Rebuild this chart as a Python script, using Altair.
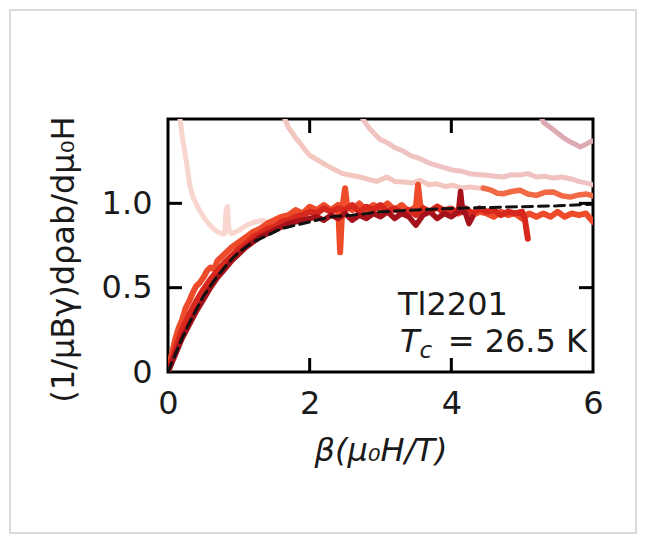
import altair as alt
import pandas as pd

# ---------------- data ----------------
fit_x = [0, 0.1, 0.2, 0.3, 0.4, 0.5, 0.6, 0.7, 0.8, 0.9, 1.0, 1.2, 1.4, 1.6, 1.8,
         2.0, 2.3, 2.6, 3.0, 3.5, 4.0, 4.5, 5.0, 5.5, 6.0]
fit_y = [0, 0.10, 0.20, 0.29, 0.37, 0.45, 0.51, 0.57, 0.62, 0.67, 0.71, 0.77, 0.81, 0.85, 0.87,
         0.89, 0.92, 0.93, 0.95, 0.96, 0.97, 0.975, 0.98, 0.985, 0.995]

pale_a_x = [0.15, 0.17, 0.20, 0.26, 0.31, 0.36, 0.43, 0.50, 0.57, 0.64, 0.70, 0.76, 0.80,
            0.82, 0.84, 0.86, 0.90, 1.00, 1.11, 1.23, 1.35]
pale_a_y = [1.60, 1.50, 1.40, 1.245, 1.10, 1.03, 0.97, 0.92, 0.88, 0.85, 0.83, 0.82, 0.82,
            0.96, 0.98, 0.84, 0.82, 0.84, 0.87, 0.89, 0.90]

pale_b_x = [1.60, 1.63, 1.70, 1.80, 1.86, 1.93, 2.00, 2.10, 2.24, 2.35, 2.47, 2.60, 2.71, 2.85,
            2.95, 3.09, 3.20, 3.32, 3.45, 3.56, 3.68, 3.79, 3.91, 4.03, 4.15, 4.26, 4.40, 4.50]
pale_b_y = [1.56, 1.52, 1.45, 1.39, 1.36, 1.32, 1.285, 1.26, 1.225, 1.20, 1.176, 1.165, 1.156, 1.14,
            1.13, 1.156, 1.13, 1.127, 1.12, 1.136, 1.11, 1.116, 1.10, 1.107, 1.09, 1.097, 1.09, 1.09]

pale_c_x = [2.70, 2.75, 2.80, 2.85, 2.99, 3.09, 3.20, 3.32, 3.44, 3.56, 3.68, 3.79, 3.91, 4.03,
            4.15, 4.26, 4.40, 4.50, 4.62, 4.73, 4.85, 4.97, 5.08, 5.20, 5.32, 5.44, 5.56, 5.68,
            5.80, 5.91, 6.0]
pale_c_y = [1.56, 1.50, 1.47, 1.44, 1.38, 1.36, 1.33, 1.31, 1.28, 1.265, 1.24, 1.225, 1.21, 1.196,
            1.19, 1.176, 1.17, 1.166, 1.16, 1.156, 1.17, 1.168, 1.176, 1.156, 1.16, 1.15, 1.156, 1.146,
            1.13, 1.12, 1.11]

mauve_x = [5.25, 5.30, 5.40, 5.49, 5.58, 5.68, 5.75, 5.82, 5.90, 5.96, 6.0]
mauve_y = [1.53, 1.48, 1.45, 1.42, 1.39, 1.364, 1.35, 1.334, 1.35, 1.364, 1.37]

orange_x = [4.45, 4.55, 4.65, 4.73, 4.85, 4.97, 5.08, 5.20, 5.32, 5.44, 5.56, 5.68, 5.80, 5.91, 6.0]
orange_y = [1.09, 1.08, 1.06, 1.057, 1.07, 1.077, 1.055, 1.047, 1.065, 1.067, 1.045, 1.037, 1.05, 1.055, 1.045]

bright_x = [0, 0.05, 0.1, 0.15, 0.2, 0.25, 0.3, 0.35, 0.4, 0.45, 0.5, 0.55, 0.6, 0.65, 0.7,
            0.8, 0.9, 1.0, 1.1, 1.2, 1.3, 1.4, 1.5, 1.6, 1.7, 1.8, 1.9, 2.0, 2.1, 2.2, 2.3, 2.4,
            2.43, 2.46, 2.5, 2.53,
            2.6, 2.7, 2.8, 2.9, 3.0, 3.1, 3.2, 3.3, 3.4, 3.5,
            3.53, 3.56,
            3.6, 3.7, 3.8, 3.9, 4.0, 4.1, 4.2, 4.3, 4.4, 4.5, 4.6, 4.7, 4.8, 4.9,
            5.0, 5.1, 5.2, 5.3, 5.4, 5.5, 5.6, 5.7, 5.8, 5.9, 6.0]
bright_y = [0.0, 0.10, 0.19, 0.26, 0.31, 0.38, 0.42, 0.47, 0.51, 0.53, 0.56, 0.60, 0.62, 0.61, 0.66,
            0.70, 0.74, 0.77, 0.80, 0.83, 0.85, 0.88, 0.90, 0.92, 0.93, 0.96, 0.94, 0.98, 0.96, 0.99, 0.96, 0.99,
            0.71, 0.97, 1.09, 0.98,
            0.96, 1.00, 0.96, 0.99, 0.97, 1.00, 0.96, 0.99, 0.95, 0.98,
            1.11, 0.99,
            0.97, 0.95, 0.98, 0.96, 0.97, 0.94, 0.96, 0.93, 0.95, 0.94, 0.92, 0.95, 0.93, 0.94,
            0.91, 0.94, 0.92, 0.94, 0.92, 0.95, 0.92, 0.94, 0.93, 0.94, 0.89]

red_x = [0, 0.1, 0.2, 0.3, 0.4, 0.5, 0.6, 0.7, 0.8, 0.9,
         1.0, 1.1, 1.2, 1.3, 1.4, 1.5, 1.6, 1.7, 1.8, 1.9,
         2.0, 2.1, 2.2, 2.3, 2.4, 2.5, 2.6, 2.7, 2.8, 2.9,
         3.0, 3.1, 3.2, 3.3, 3.4, 3.5, 3.6, 3.7, 3.8, 3.9,
         4.0, 4.1, 4.2, 4.3, 4.4, 4.5, 4.6, 4.7, 4.8, 4.9,
         5.0, 5.04, 5.08]
red_y = [0, 0.13, 0.25, 0.34, 0.42, 0.49, 0.55, 0.60, 0.65, 0.69,
         0.73, 0.76, 0.80, 0.82, 0.85, 0.86, 0.89, 0.90, 0.92, 0.93,
         0.95, 0.94, 0.97, 0.95, 0.97, 0.96, 0.99, 0.95, 0.98, 0.96,
         0.99, 0.95, 0.97, 0.94, 0.96, 0.93, 0.97, 0.95, 0.98, 0.94,
         0.96, 0.95, 0.97, 0.94, 0.97, 0.95, 0.96, 0.93, 0.95, 0.94,
         0.95, 0.90, 0.79]

dark_x = [0, 0.1, 0.2, 0.3, 0.4, 0.5, 0.6, 0.7, 0.8, 0.9,
          1.0, 1.1, 1.2, 1.3, 1.4, 1.5, 1.6, 1.7, 1.8, 1.9,
          2.0, 2.1, 2.2, 2.3, 2.4, 2.5, 2.6, 2.7, 2.8, 2.9,
          3.0, 3.1, 3.2, 3.3, 3.4, 3.5, 3.6, 3.7, 3.8, 3.9,
          4.0, 4.1, 4.13, 4.16, 4.2, 4.25, 4.3]
dark_y = [0, 0.10, 0.20, 0.28, 0.36, 0.43, 0.50, 0.56, 0.61, 0.66,
          0.70, 0.74, 0.77, 0.80, 0.82, 0.84, 0.86, 0.88, 0.89, 0.90,
          0.91, 0.92, 0.90, 0.93, 0.91, 0.94, 0.90, 0.93, 0.91, 0.94,
          0.92, 0.95, 0.91, 0.94, 0.92, 0.87, 0.93, 0.95, 0.91, 0.94,
          0.92, 0.95, 1.07, 0.95, 0.94, 0.88, 0.92]

x_tick_values = [0, 2, 4, 6]
y_tick_values = [0, 0.5, 1.0]
inner_x_ticks = [2, 4]
inner_y_ticks = [0.5, 1.0]

label_sample = "Tl2201"
label_tc_rest = "= 26.5 K"

# ---------------- chart ----------------
W, H = 425, 253
FONT = "DejaVu Sans"
INK = "#1a1a1a"

xs = alt.Scale(domain=[0, 6], nice=False, zero=False)
ys = alt.Scale(domain=[0, 1.5], nice=False, zero=False)

x_axis = alt.Axis(values=x_tick_values, format="d", title="β(μ₀H/T)",
                  titleFontStyle="italic", titleY=88, titleBaseline="alphabetic",
                  labelFlush=False, labelOverlap=False)
y_axis = alt.Axis(values=y_tick_values,
                  labelExpr="datum.value == 0 ? '0' : format(datum.value, '.1f')",
                  title="(1/μBγ)dρab/dμ₀H", titleAngle=270, titleX=-95, titleY=140,
                  titleAlign="center", titleBaseline="alphabetic",
                  labelFlush=False, labelOverlap=False)


def X(field):
    return alt.X(field, scale=xs, axis=x_axis)


def Y(field):
    return alt.Y(field, scale=ys, axis=y_axis)


def line(xv, yv, color, width, dash=None):
    df = pd.DataFrame({"x": xv, "y": yv})
    kw = dict(color=color, strokeWidth=width, clip=True, strokeJoin="round", strokeCap="round")
    if dash:
        kw["strokeDash"] = dash
    return alt.Chart(df).mark_line(**kw).encode(x=X("x:Q"), y=Y("y:Q"))


layers = [
    line(mauve_x, mauve_y, "#ddaab2", 5),
    line(pale_c_x, pale_c_y, "#f0c2c2", 5),
    line(pale_b_x, pale_b_y, "#f4c6c0", 5),
    line(pale_a_x, pale_a_y, "#f9d5cf", 5),
    line(orange_x, orange_y, "#f26a45", 5.5),
    line(bright_x, bright_y, "#ee4b2b", 6),
    line(red_x, red_y, "#d8281e", 6),
    line(dark_x, dark_y, "#a5121c", 5.5),
    line(fit_x, fit_y, "#111111", 3, dash=[10, 6]),
]

tick_style = dict(color="black", strokeWidth=3)
xt = pd.DataFrame({"v": inner_x_ticks})
yt = pd.DataFrame({"v": inner_y_ticks})
layers += [
    alt.Chart(xt).mark_rule(**tick_style).encode(x=X("v:Q"), y=alt.value(H), y2=alt.value(H - 14)),
    alt.Chart(xt).mark_rule(**tick_style).encode(x=X("v:Q"), y=alt.value(0), y2=alt.value(14)),
    alt.Chart(yt).mark_rule(**tick_style).encode(y=Y("v:Q"), x=alt.value(0), x2=alt.value(14)),
    alt.Chart(yt).mark_rule(**tick_style).encode(y=Y("v:Q"), x=alt.value(W), x2=alt.value(W - 14)),
]

text_style = dict(font=FONT, color=INK, baseline="alphabetic")


def label(x, y, t, align, size, style="normal"):
    return (alt.Chart(pd.DataFrame({"x": [x], "y": [y], "t": [t]}))
            .mark_text(align=align, fontSize=size, fontStyle=style, **text_style)
            .encode(x=X("x:Q"), y=Y("y:Q"), text="t:N"))


layers += [
    label(3.247, 0.335, label_sample, "left", 32),
    label(3.275, 0.119, "T", "left", 32, "italic"),
    label(3.55, 0.083, "c", "left", 23, "italic"),
    label(5.916, 0.119, label_tc_rest, "right", 32),
]

# light frame around the whole figure
layers.append(
    alt.Chart(pd.DataFrame({"a": [0]})).mark_rect(fill="white", fillOpacity=0, stroke="#d0d0d0",
                                                 strokeWidth=1.5)
    .encode(x=alt.value(-158), x2=alt.value(468), y=alt.value(-109), y2=alt.value(414))
)

chart = (
    alt.layer(*layers)
    .properties(width=W, height=H, autosize=alt.AutoSizeParams(type="none"),
                padding={"left": 160, "top": 111, "right": 45, "bottom": 162},
                background="white")
    .configure_axis(domain=False, ticks=False, grid=False, labelFont=FONT, labelFontSize=32,
                    labelColor=INK, labelPadding=16, titleFont=FONT, titleFontSize=32,
                    titleColor=INK, titleFontWeight="normal")
    .configure_view(stroke="black", strokeWidth=3)
)

chart.save("out.html", embed_options={"renderer": "svg", "actions": False})
